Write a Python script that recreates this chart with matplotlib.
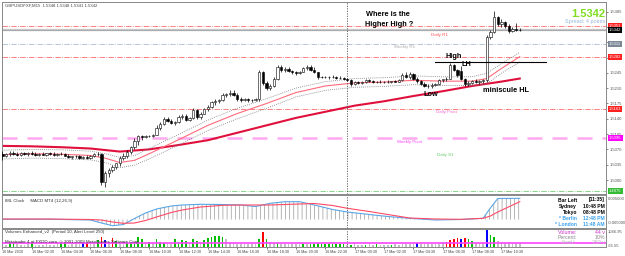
import matplotlib
matplotlib.use("Agg")
import matplotlib.pyplot as plt
from matplotlib.transforms import blended_transform_factory
import numpy as np

plt.rcParams['font.family'] = ['Liberation Sans', 'DejaVu Sans']
plt.rcParams['hatch.linewidth'] = 0.5

# GBPUSD M15, bar 0 = 16 Mar 00:30, prices in pips above 1.5000
opens = [60, 55, 60, 62, 60, 58, 61, 59, 62, 60, 57, 60, 58, 61, 60, 58, 60, 59, 56, 52,
         54, 55, 50, 53, 51, 56, 59, 60, -5, 15, 22, 30, 38, 50, 55, 65, 75, 90, 100, 98,
         100, 101, 103, 120, 128, 140, 135, 130, 132, 145, 146, 138, 142, 160, 145, 152, 162, 168, 178, 180,
         182, 195, 196, 200, 195, 185, 183, 185, 182, 184, 186, 248, 222, 210, 215, 230, 258, 252, 254, 250,
         246, 244, 248, 255, 258, 252, 246, 236, 236, 235, 236, 235, 234, 233, 231, 229, 220, 224, 222, 224,
         228, 226, 224, 225, 223, 225, 224, 226, 225, 228, 240, 236, 242, 232, 226, 220, 216, 214, 218, 220,
         228, 230, 232, 262, 252, 250, 232, 220, 222, 226, 224, 226, 228, 327, 338, 372, 356, 362, 352, 340,
         346, 344]
highs = [66, 62, 66, 66, 64, 63, 65, 64, 66, 63, 62, 64, 62, 65, 63, 62, 63, 62, 60, 56,
         58, 58, 55, 57, 58, 62, 64, 62, 20, 28, 35, 40, 55, 62, 68, 78, 95, 103, 103, 102,
         104, 106, 125, 132, 145, 145, 140, 135, 148, 150, 150, 145, 165, 162, 155, 165, 172, 180, 185, 186,
         198, 200, 205, 206, 198, 190, 188, 188, 186, 188, 252, 250, 226, 220, 236, 262, 262, 258, 258, 252,
         250, 250, 258, 262, 262, 258, 248, 238, 238, 238, 239, 238, 237, 236, 234, 231, 226, 227, 226, 230,
         232, 228, 227, 228, 227, 228, 227, 229, 230, 245, 248, 246, 244, 236, 228, 224, 220, 222, 222, 232,
         232, 236, 268, 266, 254, 260, 234, 226, 228, 230, 228, 230, 332, 342, 386, 374, 368, 364, 356, 350,
         358, 348]
lows = [46, 52, 56, 58, 55, 55, 57, 56, 58, 55, 54, 57, 55, 58, 56, 55, 57, 54, 50, 48,
        50, 48, 47, 48, 49, 53, 55, -11, -16, 8, 18, 25, 33, 45, 50, 60, 72, 80, 92, 95,
        98, 99, 102, 115, 125, 132, 128, 126, 130, 140, 134, 135, 140, 140, 140, 150, 158, 165, 172, 176,
        180, 190, 192, 193, 180, 178, 180, 178, 178, 180, 180, 218, 206, 205, 212, 228, 248, 246, 248, 243,
        240, 242, 246, 252, 250, 244, 232, 234, 233, 232, 233, 232, 231, 228, 226, 216, 218, 220, 220, 222,
        224, 222, 221, 222, 221, 222, 221, 223, 223, 226, 234, 232, 228, 222, 218, 212, 210, 210, 214, 218,
        224, 226, 230, 250, 236, 228, 214, 216, 220, 222, 220, 222, 224, 322, 336, 352, 350, 348, 336, 338,
        340, 340]
closes = [55, 60, 62, 60, 58, 61, 59, 62, 60, 57, 60, 58, 61, 60, 58, 60, 59, 56, 52, 54,
          55, 50, 53, 51, 56, 59, 60, -5, 15, 22, 30, 38, 50, 55, 65, 75, 90, 100, 98, 100,
          101, 103, 120, 128, 140, 135, 130, 132, 145, 146, 138, 142, 160, 145, 152, 162, 168, 178, 180, 182,
          195, 196, 200, 195, 185, 183, 185, 182, 184, 186, 248, 222, 210, 215, 230, 258, 252, 254, 250, 246,
          244, 248, 255, 258, 252, 246, 236, 236, 235, 236, 235, 234, 233, 231, 229, 220, 224, 222, 224, 228,
          226, 224, 225, 223, 225, 224, 226, 225, 228, 240, 236, 242, 232, 226, 220, 216, 214, 218, 220, 228,
          230, 232, 262, 252, 240, 232, 220, 222, 226, 224, 226, 228, 327, 338, 372, 356, 362, 352, 340, 346,
          344, 342]

# moving averages (pips above 1.5000) read at a few bars
slow_bars = [0, 8, 16, 24, 32, 40, 48, 56, 64, 72, 80, 88, 96, 104, 112, 120, 128, 136, 141]
slow_ma = [78, 77, 75, 72, 65, 70, 80, 91, 108, 125, 142, 156, 170, 180, 192, 203, 215, 225, 232]
fast_bars = [0, 8, 16, 24, 28, 32, 36, 40, 48, 56, 64, 72, 80, 88, 96, 104, 112, 120, 128, 132, 136, 141]
fast_ma = [58, 60, 59, 56, 50, 40, 45, 60, 92, 125, 152, 175, 200, 215, 222, 224, 228, 226, 226, 232, 255, 282]
env_up = [68, 70, 69, 66, 60, 52, 56, 72, 104, 137, 164, 186, 210, 225, 232, 234, 238, 236, 236, 244, 266, 292]
env_dn = [48, 50, 49, 46, 40, 28, 34, 48, 80, 113, 140, 164, 190, 205, 212, 214, 218, 216, 216, 220, 244, 270]

# pivot levels
levels = [1.5351, 1.5311, 1.5282, 1.5163, 1.5096, 1.4975]
level_colors = ['#ff6a6a', '#a8bcd6', '#ff6a6a', '#ff6a6a', '#ffaaf0', '#77cc77']
level_styles = ['-.', '-.', '-.', '-.', (0, (6, 4)), '-.']
level_widths = [0.6, 0.6, 0.6, 0.6, 1.8, 0.6]
level_box = ['#ff2020', '#7a8896', '#ff2020', '#ff2020', '#ff00ff', '#33bb33']
last_price = 1.5342

# MACD (pips) read at a few bars
macd_bars = [0, 12, 24, 27, 30, 33, 36, 39, 42, 46, 49, 54, 60, 65, 69, 73, 77, 81, 85, 90,
             94, 100, 105, 111, 118, 125, 131, 133, 135, 141]
macd_main = [0.4, 0.6, -1, -7, -12.4, -10, 2, 13, 21, 27, 29, 30.4, 30, 29, 26, 32.4, 35.6, 35.6, 29, 20,
             15, 10, 6, 2.4, -1, 0, 2.4, 23, 42, 42.4]
macd_signal = [1, 1, 0, -1, -5, -7.6, -7, -2, 5, 14, 19, 25, 28.4, 29, 29, 29, 30, 31, 32, 28,
               22.4, 16, 10, 3, 1, 0.4, 2.4, 7, 15, 35.6]

volumes = [180, 150, 260, 240, 160, 140, 150, 170, 230, 150, 140, 130, 160, 150, 140, 170, 250, 240, 150, 160,
           170, 180, 260, 230, 180, 200, 420,
           640, 450, 300, 580, 380, 220, 200, 260, 250, 300,
           640, 520, 230, 320, 220, 510, 300, 280, 200, 220,
           510, 350, 450, 380, 250, 510, 380, 260, 450, 580,
           640, 700, 700, 640, 500, 260, 250, 200, 180, 200,
           190, 180, 200, 500, 960, 520, 320, 250, 260, 180,
           190, 160, 170, 160, 170, 200, 180, 220, 200, 230,
           180, 200, 190, 210, 200, 190, 200, 150, 140, 160,
           150, 130, 140, 170, 150, 160, 140, 150, 130, 150,
           160, 140, 170, 180, 180, 200, 260, 200, 180, 200,
           190, 180, 220, 250, 320, 450, 520, 580, 520, 580,
           520, 400, 260, 270, 260, 1090, 770, 640, 380, 300,
           260, 300, 250, 280, 280]
vol_colors = ("ssggssssgsssssssggssssbrssg"
              "rbsrgssggg" "ggsgsgggss" "ggggsggsgg" "ggggssssss" "sssgrgssgs"
              "sssssgsggg" "gggggggsgs" "ssgssgsssg" "ssssssbsss" "ssssrrrrbr"
              "ggsssbggss" "sssss")
alert_level = 250

time_ticks = list(range(0, 137, 8))
time_labels = ['16 Mar 2010', '16 Mar 02:30', '16 Mar 04:30', '16 Mar 06:30', '16 Mar 08:30',
               '16 Mar 10:30', '16 Mar 12:30', '16 Mar 14:30', '16 Mar 16:30', '16 Mar 18:30',
               '16 Mar 20:30', '16 Mar 22:30', '17 Mar 00:30', '17 Mar 02:30', '17 Mar 04:30',
               '17 Mar 06:30', '17 Mar 08:30', '17 Mar 10:30']
day_break = 94

W, H = 625, 256
fig = plt.figure(figsize=(W / 100, H / 100), dpi=100)
fig.patch.set_facecolor('white')


def panel(l, t, r, b):
    a = fig.add_axes([l / W, 1 - b / H, (r - l) / W, (b - t) / H])
    a.set_facecolor('white')
    for s in a.spines.values():
        s.set_color('#888888')
        s.set_linewidth(0.7)
    a.set_xlim(-0.11, 164.5)
    a.yaxis.tick_right()
    a.tick_params(axis='y', labelsize=3, length=1.5, width=0.5, colors='#555555', pad=1)
    a.tick_params(axis='x', length=0, labelbottom=False)
    return a


def ftxt(x, y, s, **kw):
    fig.text(x / W, 1 - y / H, s, **kw)


to_price = lambda p: 1.5 + np.asarray(p, dtype=float) / 10000

ax = panel(2, 2, 606, 194)
ax.set_ylim(to_price(-32), to_price(407))

o, h, l, c = map(to_price, (opens, highs, lows, closes))
x = np.arange(len(c))
ax.vlines(x, l, h, color='black', lw=0.5, zorder=3)
up = c >= o
body_lo = np.minimum(o, c)
body_h = np.maximum(np.abs(c - o), 0.00003)
ax.bar(x, body_h, bottom=body_lo, width=0.62, color=np.where(up, 'white', 'black'),
       edgecolor='black', linewidth=0.4, zorder=4)

ax.plot(slow_bars, to_price(slow_ma), color='#e0103c', lw=1.5, zorder=2)
ax.plot(fast_bars, to_price(fast_ma), color='#ff6a7a', lw=0.8, zorder=2)
ax.plot(fast_bars, to_price(env_up), color='#777777', lw=0.6, ls=(0, (1, 1.5)), zorder=2)
ax.plot(fast_bars, to_price(env_dn), color='#777777', lw=0.6, ls=(0, (1, 1.5)), zorder=2)

for lv, col, st, lw in zip(levels, level_colors, level_styles, level_widths):
    ax.axhline(lv, color=col, ls=st, lw=lw, zorder=1)
ax.axhline(last_price, color='#aaaaaa', lw=1.6, zorder=1)
ax.axhline(last_price + 0.0004, color='#cccccc', lw=0.6, zorder=1)

yt = 1.5 + np.arange(12) * 0.0035
ax.set_yticks(yt)
ax.set_yticklabels(['%.4f' % v for v in yt])

btr = blended_transform_factory(ax.transAxes, ax.transData)
for lv, col in zip(levels + [last_price], level_box + ['black']):
    ax.text(1.005, lv, '%.4f' % lv, transform=btr, fontsize=3, color='white', va='center', ha='left',
            bbox=dict(boxstyle='square,pad=0.25', fc=col, ec='none'), zorder=6, clip_on=False)

# day separator through all panels
ax.axvline(day_break, color='#555555', lw=0.6, ls=(0, (1.5, 1.5)))

# texts
ftxt(5, 6, 'GBPUSDFXF,M15  1.5348 1.5348 1.5341 1.5342', fontsize=3.1, color='#444444', va='center')
ftxt(605, 14, '1.5342', fontsize=8, color='#80dd22', fontweight='bold', ha='right', va='center')
ftxt(605, 22, 'Spread: 4 points', fontsize=4, color='#9ab8d8', ha='right', va='center')
ftxt(439, 35, 'Daily R1', fontsize=3.2, color='#ff5050', ha='center', va='center')
ftxt(405, 47, 'Weekly R1', fontsize=3.2, color='#aaaaaa', ha='center', va='center')
ftxt(446, 112, 'Daily Pivot', fontsize=3.2, color='#ff66cc', ha='center', va='center')
ftxt(410, 142, 'Weekly Pivot', fontsize=3.2, color='#ff44ff', ha='center', va='center')
ftxt(445, 155, 'Daily S1', fontsize=3.2, color='#66cc66', ha='center', va='center')
ftxt(366, 15, 'Where is the', fontsize=5.3, fontweight='bold', va='center')
ftxt(365, 24, 'Higher High ?', fontsize=5.3, fontweight='bold', va='center')
ftxt(446, 57, 'High', fontsize=5.3, fontweight='bold', va='center')
ftxt(462, 65, 'LH', fontsize=5.3, fontweight='bold', va='center')
ftxt(424, 94, 'Low', fontsize=5.3, fontweight='bold', va='center')
ftxt(483, 91, 'miniscule HL', fontsize=5.3, fontweight='bold', va='center')
fig.add_artist(plt.Line2D([435 / W, 546 / W], [1 - 62 / H, 1 - 62 / H], color='black', lw=0.8))

# MACD
am = panel(2, 195, 606, 228)
am.set_ylim(-17, 49)
am.set_yticks([])
am.fill_between(macd_bars, 0, macd_main, hatch='||||', facecolor='none', edgecolor='#999999', linewidth=0)
am.plot(macd_bars, macd_main, color='#5aa6e6', lw=0.8)
am.plot(macd_bars, macd_signal, color='#ff4a66', lw=0.8)
am.axvline(day_break, color='#555555', lw=0.6, ls=(0, (1.5, 1.5)))
ftxt(5, 201, 'IML Clock     MACD MT4 (12,26,9)', fontsize=3.2, color='#333333', va='center')
ftxt(608, 199, '0.005000', fontsize=3, color='#555555', va='center')
ftxt(608, 223, '-0.005000', fontsize=3, color='#555555', va='center')

clock_names = ['Bar Left', 'Sydney', 'Tokyo', '* Berlin', '* London']
clock_values = ['[11:35]', '10:48 PM', '08:48 PM', '12:48 PM', '11:48 AM']
clock_colors = ['black', 'black', 'black', '#3aa0ee', '#3aa0ee']
for i, (nm, vl, cl) in enumerate(zip(clock_names, clock_values, clock_colors)):
    yy = 200 + i * 6.2
    ftxt(577, yy, nm, fontsize=3.6, fontweight='bold', color=cl, ha='right', va='center')
    ftxt(605, yy, vl, fontsize=3.6, fontweight='bold', color=cl, ha='right', va='center')

# Volumes
av = panel(2, 229, 606, 247)
av.set_ylim(0, 1150)
av.set_yticks([])
cmap = {'g': '#00c000', 'r': '#ff0000', 'b': '#0000ff', 's': '#c0c0c0'}
av.bar(np.arange(len(volumes)), volumes, width=0.45, color=[cmap[k] for k in vol_colors], zorder=2)
av.axhline(alert_level, color='#ff44ff', lw=1.2, zorder=3)
av.axvline(day_break, color='#555555', lw=0.6, ls=(0, (1.5, 1.5)))
ftxt(5, 232, 'Volumes Enhanced_v2  (Period 10, Alert Level 250)', fontsize=3.2, color='#333333', va='center')
ftxt(5, 242, 'Metatrader 4 at FXDD.com, \u00a9 2001-2009 MetaQuotes Software Corp.', fontsize=3.2,
     color='#333333', va='center', zorder=5)
ftxt(608, 232, '1046.95', fontsize=3, color='#555555', va='center')
ftxt(608, 246, '-65.55', fontsize=3, color='#555555', va='center')
vol_names = ['Volume:', 'Percent:', 'AlertV:']
vol_values = ['44 v', '10%', '250 v']
vol_tcolors = ['#cc33cc', '#888888', '#bbbbbb']
for i, (nm, vl, cl) in enumerate(zip(vol_names, vol_values, vol_tcolors)):
    yy = 232 + i * 5.5
    ftxt(577, yy, nm, fontsize=3.8, color=cl, ha='right', va='center')
    ftxt(605, yy, vl, fontsize=3.8, color=cl, ha='right', va='center')

av.set_xticks(time_ticks)
av.set_xticklabels(time_labels, ha='left')
av.tick_params(axis='x', labelbottom=True, labelsize=2.7, length=1.5, width=0.5, colors='#444444', pad=1)

fig.savefig('out.png', dpi=100, facecolor='white')
